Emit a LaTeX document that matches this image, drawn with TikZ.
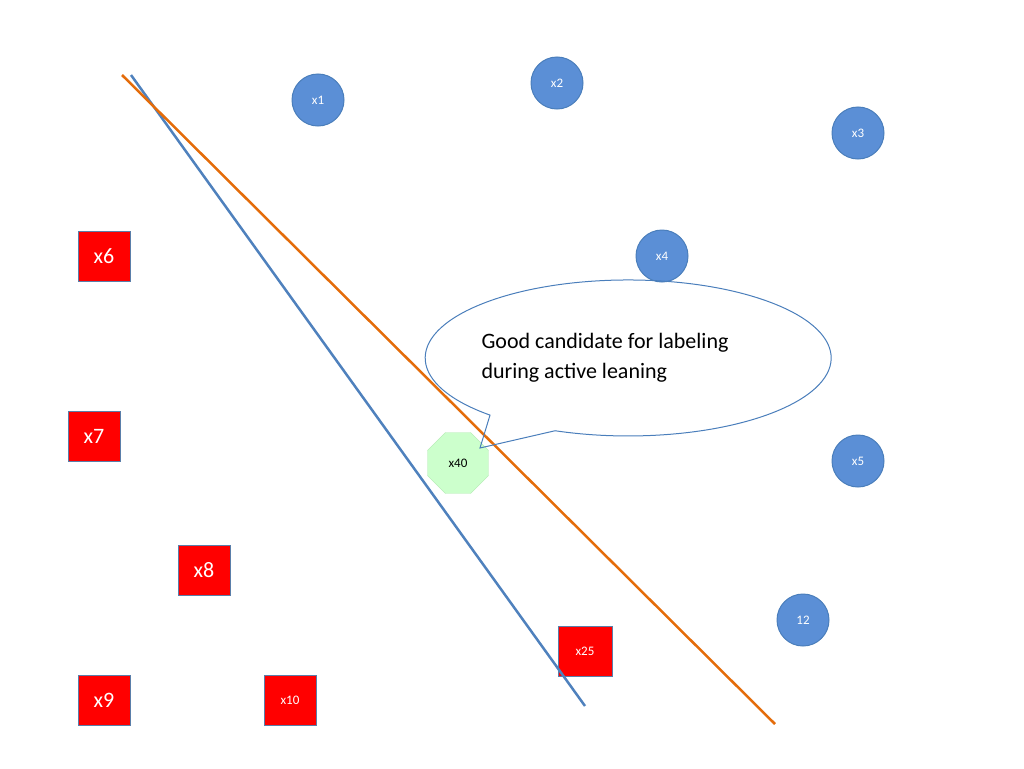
\documentclass[tikz,border=0pt]{standalone}
\usepackage{fontspec}
\setmainfont{Carlito}
\usetikzlibrary{shapes.geometric}
\definecolor{cblue}{HTML}{5B8FD6}
\definecolor{cbord}{HTML}{4A7EBB}
\definecolor{lblue}{HTML}{4F81BD}
\definecolor{lorange}{HTML}{E46C0A}
\definecolor{gfill}{HTML}{CCFFCC}
\definecolor{gbord}{HTML}{B0E8B0}
\tikzset{
 pt/.style={circle,minimum size=52pt,inner sep=0pt,fill=cblue,draw=cbord,line width=1pt,text=white,font=\fontsize{13}{15}\selectfont},
 sq/.style={rectangle,minimum width=52pt,minimum height=50pt,inner sep=0pt,fill=red,draw=cbord!70!gray,line width=1pt,text=white,font=\fontsize{22}{26}\selectfont},
 sqs/.style={sq,font=\fontsize{13}{15}\selectfont},
 sep/.style={line width=2.5pt}
}
\begin{document}
\begin{tikzpicture}[x=1pt,y=-1pt]
\useasboundingbox (0,0) rectangle (1024,768);
\node[pt] (x1) at (318,100) {x1};
\node[pt] (x2) at (557,83) {x2};
\node[pt] (x3) at (858,133) {x3};
\node[pt] (x4) at (662,256) {x4};
\node[pt] (x5) at (858,461) {x5};
\node[pt] (x12) at (803,620) {12};
\node[sq] (x6) at (104,256) {x6};
\node[sq] (x7) at (94,436) {x7};
\node[sq] (x8) at (204,570) {x8};
\node[sq] (x9) at (104,700) {x9};
\node[sqs] (x10) at (290,700) {x10};
\node[sqs,minimum width=54pt] (x25) at (585,651) {x25};
\coordinate (b1) at (131,75); \coordinate (b2) at (585,706);
\coordinate (o1) at (122,75); \coordinate (o2) at (775,724);
\draw[sep,lblue] (b1) -- (b2);
\draw[sep,lorange] (o1) -- (o2);
\node[regular polygon,regular polygon sides=8,minimum size=66pt,inner sep=0pt,fill=gfill,draw=gbord,font=\fontsize{13}{15}\selectfont] (x40) at (458,463) {x40};
\coordinate (tip) at (480,448);
\coordinate (lb) at (490,415.1);
\draw[cbord,line width=1pt] (tip) -- (lb) arc[start angle=132.9,end angle=471.1,x radius=203,y radius=78] -- cycle;
\node[anchor=west,align=left,font=\fontsize{22}{30}\selectfont] (txt) at (478,358) {Good candidate for labeling\\during active leaning};
\end{tikzpicture}
\end{document}
